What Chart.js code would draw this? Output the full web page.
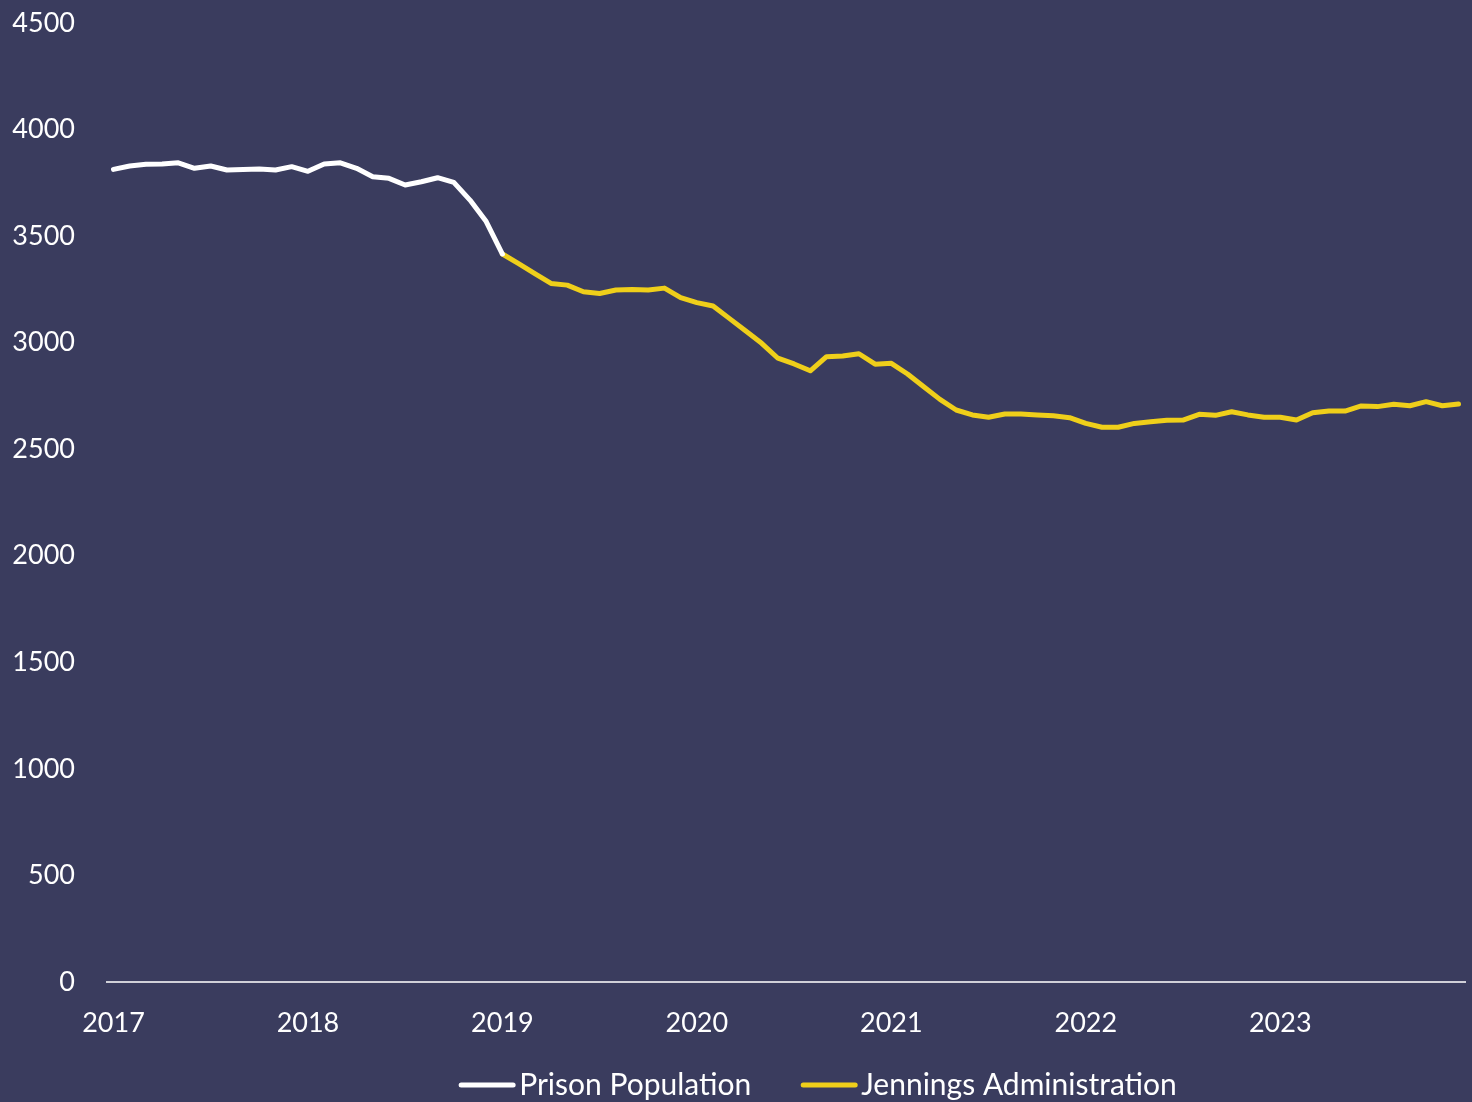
<!DOCTYPE html>
<html>
<head>
<meta charset="utf-8">
<script src="https://cdn.jsdelivr.net/npm/chart.js@4"></script>
<style>
  html, body { margin: 0; padding: 0; background: #3a3c5e; }
  #wrap { width: 1472px; height: 1102px; position: relative; }
</style>
</head>
<body>
<div id="wrap"><canvas id="chart"></canvas></div>
<script>
// monthly data, Jan 2017 .. Dec 2023 (84 months)
const yearLabels = ['2017', '2018', '2019', '2020', '2021', '2022', '2023'];
const yTicks = [0, 500, 1000, 1500, 2000, 2500, 3000, 3500, 4000, 4500];

// Jan 2017 .. Jan 2019
const prisonPopulation = [
  3813, 3829, 3837, 3838, 3844, 3818, 3829, 3810, 3812, 3815, 3810, 3826,
  3804, 3838, 3844, 3818, 3779, 3771, 3740, 3755, 3774, 3752, 3669, 3568,
  3416
];

// Jan 2019 .. Dec 2023
const jenningsAdmin = [
  3416, 3371, 3324, 3278, 3270, 3239, 3231, 3247, 3250, 3247, 3256, 3211,
  3188, 3172, 3114, 3056, 2997, 2927, 2900, 2868, 2934, 2937, 2948, 2899,
  2903, 2853, 2793, 2734, 2684, 2661, 2650, 2665, 2665, 2661, 2657, 2648,
  2621, 2603, 2603, 2621, 2629, 2636, 2637, 2664, 2659, 2676, 2661, 2650,
  2650, 2637, 2671, 2679, 2679, 2703, 2700, 2711, 2704, 2723, 2704, 2712
];
const jenningsStart = 24;

const WHITE = '#ffffff';
const YELLOW = '#efcf1a';
const FONT = 'Lato, "Open Sans", sans-serif';

const prisonPts = prisonPopulation.map((v, i) => ({ x: i, y: v }));
const jenningsPts = jenningsAdmin.map((v, i) => ({ x: i + jenningsStart, y: v }));

// bottom legend: short line + label, centred a bit right of the page like the original
const lineLegend = {
  id: 'lineLegend',
  afterDraw(chart) {
    const ctx = chart.ctx;
    const sets = chart.data.datasets;
    const lineW = 56, textGap = 4, itemGap = 50, cy = 1085, cx = 818;
    ctx.save();
    ctx.font = '30px ' + FONT;
    const widths = sets.map(d => lineW + textGap + ctx.measureText(d.label).width);
    const total = widths.reduce((a, b) => a + b, 0) + itemGap * (sets.length - 1);
    let x = cx - total / 2;
    sets.forEach((d, i) => {
      ctx.strokeStyle = d.borderColor;
      ctx.lineWidth = 5;
      ctx.lineCap = 'round';
      ctx.beginPath();
      ctx.moveTo(x + 2, cy);
      ctx.lineTo(x + lineW - 2, cy);
      ctx.stroke();
      ctx.fillStyle = WHITE;
      ctx.textBaseline = 'middle';
      ctx.textAlign = 'left';
      ctx.fillText(d.label, x + lineW + textGap, cy);
      x += widths[i] + itemGap;
    });
    ctx.restore();
  }
};

new Chart(document.getElementById('chart'), {
  type: 'line',
  data: {
    datasets: [
      {
        label: 'Prison Population',
        data: prisonPts,
        borderColor: WHITE,
        backgroundColor: WHITE,
        borderWidth: 5,
        pointRadius: 0,
        tension: 0,
        borderCapStyle: 'round',
        borderJoinStyle: 'round'
      },
      {
        label: 'Jennings Administration',
        data: jenningsPts,
        borderColor: YELLOW,
        backgroundColor: YELLOW,
        borderWidth: 5,
        pointRadius: 0,
        tension: 0,
        borderCapStyle: 'round',
        borderJoinStyle: 'round'
      }
    ]
  },
  plugins: [lineLegend],
  options: {
    responsive: true,
    maintainAspectRatio: false,
    animation: false,
    layout: { padding: { left: 12, right: 7, top: 23, bottom: 60 } },
    scales: {
      x: {
        type: 'linear',
        min: -0.4,
        max: 83.4,
        afterBuildTicks: (scale) => {
          scale.ticks = yearLabels.map((y, i) => ({ value: i * 12 }));
        },
        afterFit: (scale) => { scale.height = 60; },
        ticks: {
          color: WHITE,
          font: { family: FONT, size: 27 },
          padding: 25,
          maxRotation: 0,
          autoSkip: false,
          callback: (v) => yearLabels[Math.round(v / 12)]
        },
        grid: { display: false, drawTicks: false },
        border: { display: true, color: '#d0d0d8', width: 2 }
      },
      y: {
        min: 0,
        max: 4500,
        afterBuildTicks: (scale) => {
          scale.ticks = yTicks.map(v => ({ value: v }));
        },
        afterFit: (scale) => {
          scale.width = 95;
          scale.paddingTop = 0;
          scale.paddingBottom = 0;
        },
        ticks: {
          color: WHITE,
          font: { family: FONT, size: 27 },
          padding: 32,
          callback: (v) => String(v)
        },
        grid: { display: false, drawTicks: false },
        border: { display: false }
      }
    },
    plugins: {
      tooltip: { enabled: false },
      legend: { display: false }
    }
  }
});
</script>
</body>
</html>
